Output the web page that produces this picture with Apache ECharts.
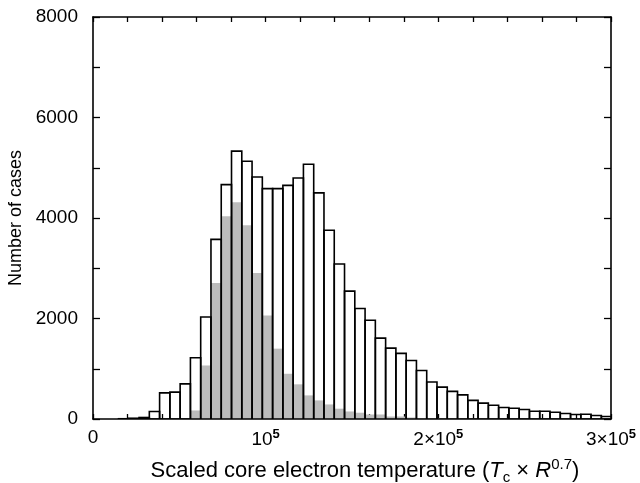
<!DOCTYPE html>
<html>
<head>
<meta charset="utf-8">
<script src="https://cdn.jsdelivr.net/npm/echarts@6/dist/echarts.min.js"></script>
<style>html,body{margin:0;padding:0;background:#fff}#c{width:640px;height:483px}</style>
</head>
<body>
<div id="c"></div>
<script>
// Histogram bins: first bin left edge and bin width (in scaled temperature units)
const binStart = 2870;
const binWidth = 5950;
// All cases (outlined bars), one count per bin
const allCounts = [0, 0, 5, 15, 30, 150, 520, 535, 700, 1220,
  2030, 3575, 4665, 5330, 5130, 4815, 4585, 4585, 4650, 4795,
  5070, 4500, 3755, 3085, 2545, 2200, 1965, 1610, 1410, 1305,
  1165, 965, 735, 635, 550, 480, 370, 315, 275, 230,
  215, 190, 155, 155, 135, 110, 90, 95, 70, 50];
// Subset (grey filled bars)
const subCounts = [0, 0, 0, 0, 0, 0, 0, 0, 0, 170,
  1065, 2705, 4035, 4315, 3855, 2905, 2060, 1400, 900, 690,
  470, 370, 290, 205, 150, 125, 90, 90, 50, 50,
  30, 20, 15, 12, 10, 8, 7, 6, 5, 4,
  4, 3, 3, 2, 2, 2, 1, 1, 1, 1];
const xTickLabels = {0: '0', 100000: '{b|10}{s|5}', 200000: '{b|2×10}{s|5}', 300000: '{b|3×10}{s|5}'};
const yTickLabels = [0, 2000, 4000, 6000, 8000];

function bins(counts) {
  return counts.map((v, i) => [binStart + i * binWidth, binStart + (i + 1) * binWidth, v]);
}

function renderBar(fill, stroke) {
  return function (params, api) {
    const x0 = api.value(0), x1 = api.value(1), v = api.value(2);
    if (v <= 0) return null;
    const p0 = api.coord([x0, v]);
    const p1 = api.coord([x1, 0]);
    return {
      type: 'rect',
      shape: {x: p0[0], y: p0[1], width: p1[0] - p0[0], height: p1[1] - p0[1]},
      style: {fill: fill, stroke: stroke, lineWidth: stroke ? 1.6 : 0}
    };
  };
}

const font = 'Liberation Sans, Arial, Helvetica, sans-serif';
const chart = echarts.init(document.getElementById('c'), null, {renderer: 'canvas'});
const xBase = {
  type: 'value', min: 0, max: 300000, interval: 20000,
  splitLine: {show: false},
  axisLine: {show: true, onZero: false, lineStyle: {color: '#000', width: 1.6}},
  axisTick: {show: true, inside: true, length: 5, lineStyle: {color: '#000', width: 1.3}}
};
const yBase = {
  type: 'value', min: 0, max: 8000, interval: 1000,
  splitLine: {show: false},
  axisLine: {show: true, onZero: false, lineStyle: {color: '#000', width: 1.6}},
  axisTick: {show: true, inside: true, length: 7, lineStyle: {color: '#000', width: 1.3}}
};
chart.setOption({
  animation: false,
  backgroundColor: '#fff',
  grid: {left: 93, right: 29, top: 17, bottom: 64, containLabel: false, outerBoundsMode: 'none'},
  xAxis: [
    Object.assign({}, xBase, {
      position: 'bottom',
      name: '{n|Scaled core electron temperature (}{i|T}{sub|c}{n| × }{i|R}{sup|0.7}{n|)}',
      nameLocation: 'middle', nameGap: 38,
      nameTextStyle: {
        fontFamily: font, color: '#000', padding: [0, 0, 0, 26],
        rich: {
          n: {fontSize: 22, fontFamily: font, lineHeight: 28, color: '#000'},
          i: {fontSize: 22, fontFamily: font, fontStyle: 'italic', lineHeight: 28, color: '#000'},
          sub: {fontSize: 15, fontFamily: font, lineHeight: 17, verticalAlign: 'bottom', color: '#000'},
          sup: {fontSize: 15, fontFamily: font, lineHeight: 17, verticalAlign: 'top', color: '#000'}
        }
      },
      axisLabel: {
        margin: 9, color: '#000', fontFamily: font, fontSize: 19,
        formatter: v => (xTickLabels[v] !== undefined ? xTickLabels[v] : ''),
        rich: {
          b: {fontSize: 19, fontFamily: font, lineHeight: 24, color: '#000'},
          s: {fontSize: 13, fontFamily: font, fontWeight: 'bold', lineHeight: 13, verticalAlign: 'top', color: '#000'}
        }
      }
    }),
    Object.assign({}, xBase, {position: 'top', axisLabel: {show: false}})
  ],
  yAxis: [
    Object.assign({}, yBase, {
      position: 'left',
      name: 'Number of cases', nameLocation: 'middle', nameGap: 66, nameRotate: 90,
      nameTextStyle: {fontFamily: font, fontSize: 18, color: '#000'},
      axisLabel: {
        margin: 15, color: '#000', fontFamily: font, fontSize: 19,
        formatter: v => (yTickLabels.indexOf(v) >= 0 ? String(v) : '')
      }
    }),
    Object.assign({}, yBase, {position: 'right', axisLabel: {show: false}})
  ],
  series: [
    {
      type: 'custom', name: 'subset', xAxisIndex: 0, yAxisIndex: 0, clip: true,
      renderItem: renderBar('#bcbcbc', null),
      encode: {x: [0, 1], y: 2},
      data: bins(subCounts), z: 1
    },
    {
      type: 'custom', name: 'all', xAxisIndex: 0, yAxisIndex: 0, clip: true,
      renderItem: renderBar('rgba(0,0,0,0)', '#000'),
      encode: {x: [0, 1], y: 2},
      data: bins(allCounts), z: 2
    }
  ]
});
</script>
</body>
</html>
